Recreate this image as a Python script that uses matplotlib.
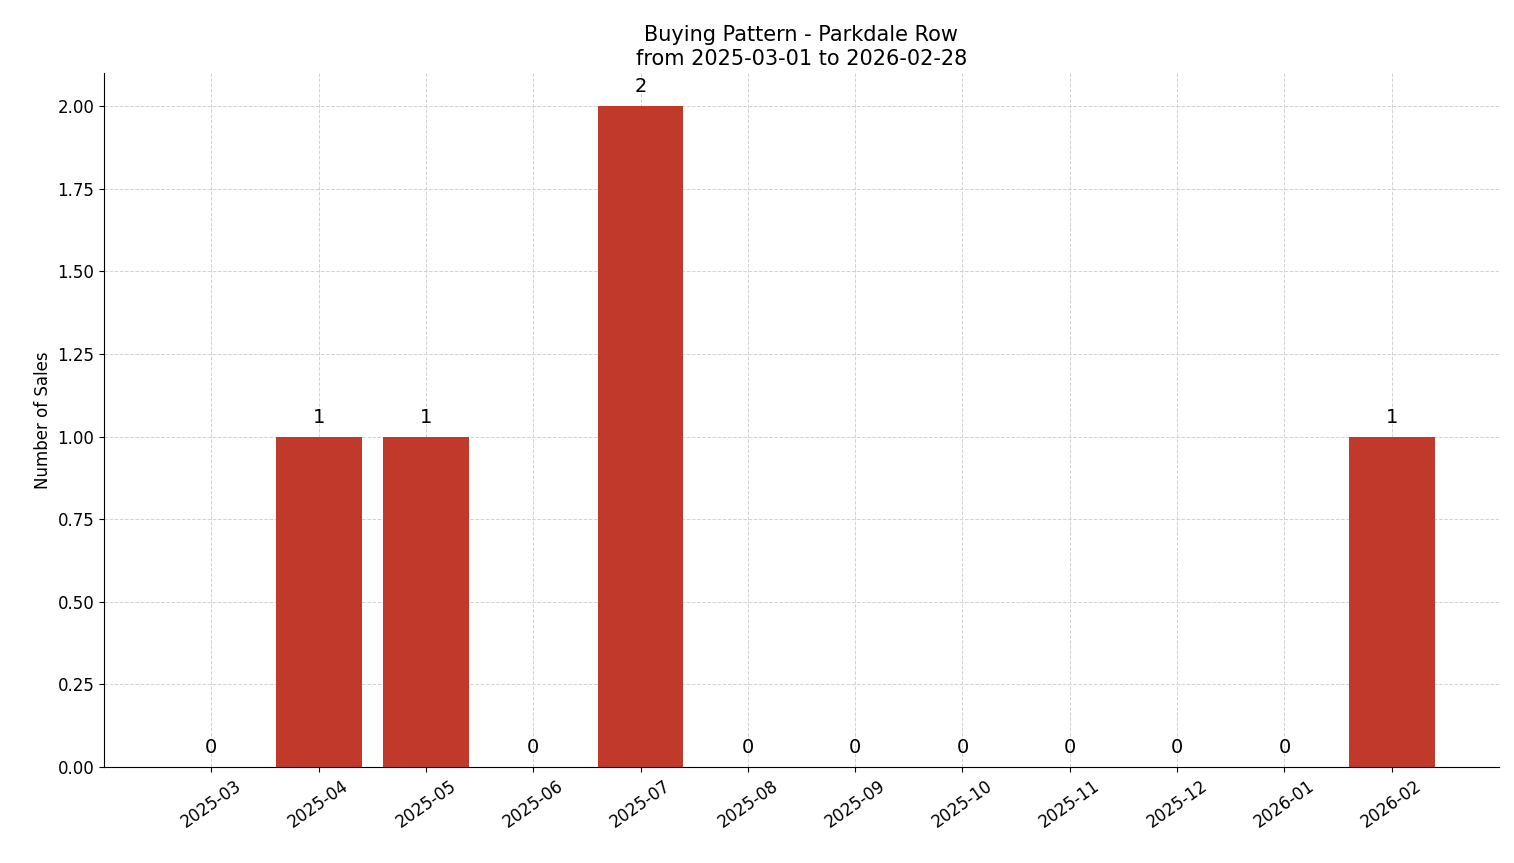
import matplotlib
matplotlib.use("Agg")
import matplotlib.pyplot as plt

months = ["2025-03", "2025-04", "2025-05", "2025-06", "2025-07", "2025-08",
          "2025-09", "2025-10", "2025-11", "2025-12", "2026-01", "2026-02"]
sales = [0, 1, 1, 0, 2, 0, 0, 0, 0, 0, 0, 1]

fig = plt.figure(figsize=(15.14, 8.63), dpi=100)
ax = fig.add_axes([104 / 1514, 1 - 767 / 863, (1499 - 104) / 1514, (767 - 73) / 863])

x = list(range(len(months)))
bars = ax.bar(x, sales, width=0.8, color="#c0392b", zorder=2)
for xi, v in zip(x, sales):
    ax.text(xi, v + 0.03, str(v), ha="center", va="bottom", fontsize=14)

ax.set_xticks(x)
ax.set_xticklabels(months, rotation=35, ha="center", fontsize=12)
ax.tick_params(axis="y", labelsize=12)
ax.set_yticks([0, 0.25, 0.5, 0.75, 1.0, 1.25, 1.5, 1.75, 2.0])
ax.set_yticklabels([f"{t:.2f}" for t in ax.get_yticks()])
ax.set_ylim(0, 2.1)
ax.set_xlim(-1.0, 12.0)
ax.set_ylabel("Number of Sales", fontsize=12)
ax.set_title("Buying Pattern - Parkdale Row\nfrom 2025-03-01 to 2026-02-28", fontsize=15)
ax.grid(True, linestyle="--", color="#d3d3d3", linewidth=0.7, zorder=0)
ax.set_axisbelow(True)
ax.spines["top"].set_visible(False)
ax.spines["right"].set_visible(False)

fig.savefig("out.png", dpi=100)
